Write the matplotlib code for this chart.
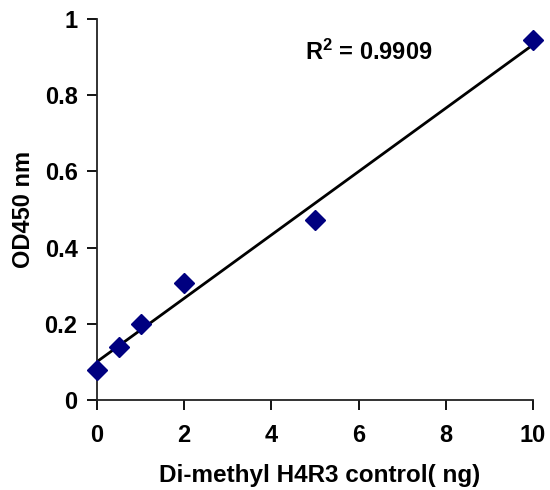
import numpy as np
import matplotlib
matplotlib.use("Agg")
import matplotlib.pyplot as plt

plt.rcParams['font.family'] = ['Liberation Sans', 'DejaVu Sans']
plt.rcParams['font.weight'] = 'bold'
plt.rcParams['mathtext.fontset'] = 'custom'
plt.rcParams['mathtext.rm'] = 'Liberation Sans:bold'
plt.rcParams['mathtext.it'] = 'Liberation Sans:bold'
plt.rcParams['mathtext.bf'] = 'Liberation Sans:bold'

# data
conc = [0, 0.5, 1, 2, 5, 10]          # ng
od450 = [0.08, 0.138, 0.20, 0.307, 0.472, 0.945]
r2_label = r"R$^\mathrm{2}$ = 0.9909"

fig = plt.figure(figsize=(5.5, 4.9), dpi=100)
ax = fig.add_axes([0.1764, 0.1837, 0.7927, 0.7776])

# linear trendline
coef = np.polyfit(conc, od450, 1)
xl = np.array([min(conc), max(conc)])
ax.plot(xl, np.polyval(coef, xl), color='black', lw=2.0, zorder=2)

ax.plot(conc, od450, linestyle='none', marker='D', markersize=10,
        color='#000080', zorder=3, clip_on=False)

ax.text(4.77, 0.892, r2_label, fontsize=17, fontweight='bold')

ax.set_xlim(0, 10)
ax.set_ylim(0, 1)
ax.set_xticks([0, 2, 4, 6, 8, 10])
ax.set_yticks([0, 0.2, 0.4, 0.6, 0.8, 1])
ax.set_yticklabels(['0', '0.2', '0.4', '0.6', '0.8', '1'])
ax.spines['top'].set_visible(False)
ax.spines['right'].set_visible(False)
for s in ['left', 'bottom']:
    ax.spines[s].set_linewidth(1.3)
    ax.spines[s].set_color('#222222')
ax.tick_params(direction='out', length=7, width=1.3, labelsize=17)
ax.tick_params(axis='x', pad=10)
ax.tick_params(axis='y', pad=7)
ax.set_xlabel("Di-methyl H4R3 control( ng)", fontsize=17.5, fontweight='bold')
ax.set_ylabel("OD450 nm", fontsize=17, fontweight='bold')
ax.xaxis.set_label_coords(0.511, -0.168)
ax.yaxis.set_label_coords(-0.143, 0.5)

fig.savefig("out.png", dpi=100)
